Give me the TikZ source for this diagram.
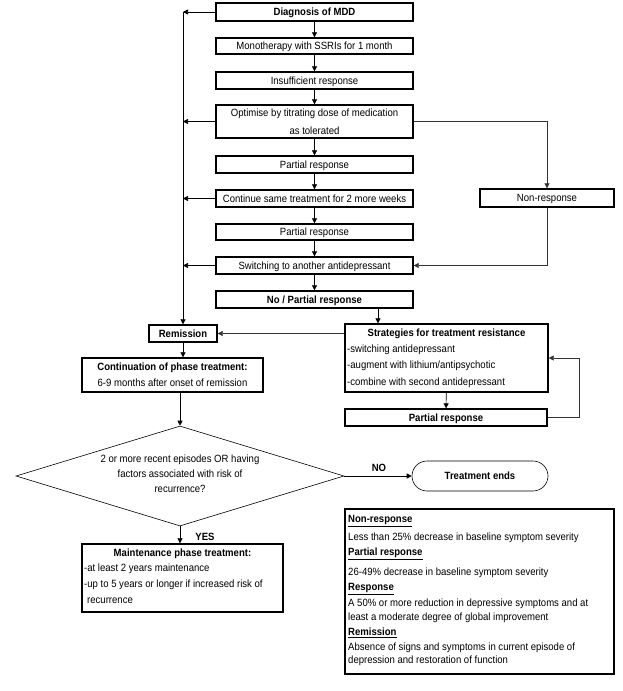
\documentclass[tikz,border=0pt]{standalone}
\usepackage{fontspec}
\setmainfont[FakeStretch=0.91]{Liberation Sans}
\usetikzlibrary{shapes.geometric,arrows.meta}
\begin{document}
\begin{tikzpicture}[x=1pt,y=-1pt,
  every node/.style={font=\fontsize{10.5}{12}\selectfont, inner sep=0pt, text height=7.5pt, text depth=0pt},
  frame/.style={draw, line width=1.3pt},
  mbox/.style={frame, minimum width=197pt, minimum height=17pt},
  lbl/.style={anchor=west},
  arr/.style={-{Triangle[length=5pt,width=5pt]}, line width=0.7pt},
  conn/.style={-{Triangle[length=5pt,width=5pt]}, line width=0.6pt, draw=black!80},
]
\useasboundingbox[fill=white] (0,0) rectangle (623,691);

% main column
\node[mbox, minimum height=18pt] (diag) at (314.5,12) {\textbf{Diagnosis of MDD}};
\node[mbox, minimum height=16pt] (mono) at (314.5,46) {Monotherapy with SSRIs for 1 month};
\node[mbox] (insuf) at (314.5,80.5) {Insufficient response};
\node[mbox, minimum height=33pt] (optim) at (314.5,121.5) {};
\node (optimA) at (314.5,113) {Optimise by titrating dose of medication};
\node (optimB) at (314.5,131) {as tolerated};
\node[mbox] (part1) at (314.5,164.5) {Partial response};
\node[mbox] (cont) at (314.5,198.5) {Continue same treatment for 2 more weeks};
\node[mbox, minimum height=16pt] (part2) at (314.5,232) {Partial response};
\node[mbox] (switch) at (314.5,265.5) {Switching to another antidepressant};
\node[mbox] (nopart) at (314.5,299.5) {\textbf{No / Partial response}};

\node[frame, minimum width=134pt, minimum height=18pt] (nonresp) at (547,198) {Non-response};

\node[frame, minimum width=68pt, minimum height=17pt] (remis) at (183,333.5) {\textbf{Remission}};

\node[frame, minimum width=203pt, minimum height=68pt] (strat) at (446.5,358) {};
\node (stratT) at (446.5,333) {\textbf{Strategies for treatment resistance}};
\node[lbl] (stratA) at (347,349) {-switching antidepressant};
\node[lbl] (stratB) at (347,365) {-augment with lithium/antipsychotic};
\node[lbl] (stratC) at (347,382) {-combine with second antidepressant};

\node[frame, minimum width=202pt, minimum height=17pt] (part3) at (446,417.5) {\textbf{Partial response}};

\node[frame, minimum width=181pt, minimum height=34pt] (contin) at (172.5,375) {};
\node (continT) at (172.5,367) {\textbf{Continuation of phase treatment:}};
\node (continA) at (172.5,383) {6-9 months after onset of remission};

\node[diamond, draw, line width=0.6pt, minimum width=328pt, minimum height=100pt, inner sep=0pt] (dec) at (180,476) {};
\node (decA) at (180,459) {2 or more recent episodes OR having};
\node (decB) at (180,474) {factors associated with risk of};
\node (decC) at (180,489) {recurrence?};

\node[draw, line width=0.6pt, rounded corners=15pt, minimum width=136pt, minimum height=30pt] (tend) at (480,476) {\textbf{Treatment ends}};

\node[frame, minimum width=201pt, minimum height=68pt] (maint) at (182.5,578) {};
\node (maintT) at (182.5,553) {\textbf{Maintenance phase treatment:}};
\node[lbl] (maintA) at (84,568) {-at least 2 years maintenance};
\node[lbl] (maintB) at (84,584) {-up to 5 years or longer if increased risk of};
\node[lbl] (maintC) at (87,600) {recurrence};

\node[frame, minimum width=269pt, minimum height=165pt] (legend) at (479.5,591.5) {};
\node[lbl] (lg1) at (348,519) {\underline{\textbf{Non-response}}};
\node[lbl] (lg2) at (348,537) {Less than 25\% decrease in baseline symptom severity};
\node[lbl] (lg3) at (348,552) {\underline{\textbf{Partial response}}};
\node[lbl] (lg4) at (348,572) {26-49\% decrease in baseline symptom severity};
\node[lbl] (lg5) at (348,587) {\underline{\textbf{Response}}};
\node[lbl] (lg6) at (348,603) {A 50\% or more reduction in depressive symptoms and at};
\node[lbl] (lg7) at (348,617) {least a moderate degree of global improvement};
\node[lbl] (lg8) at (348,632) {\underline{\textbf{Remission}}};
\node[lbl] (lg9) at (348,647) {Absence of signs and symptoms in current episode of};
\node[lbl] (lg10) at (348,660) {depression and restoration of function};

% main column arrows
\draw[arr] (diag) -- (mono);
\draw[arr] (mono) -- (insuf);
\draw[arr] (insuf) -- (optim);
\draw[arr] (optim) -- (part1);
\draw[arr] (part1) -- (cont);
\draw[arr] (cont) -- (part2);
\draw[arr] (part2) -- (switch);
\draw[arr] (switch) -- (nopart);

% left return line
\coordinate (L1) at (183,12);
\draw[arr] (diag.west) -- (L1);
\draw[arr] (optim.west) -- (optim.west -| L1);
\draw[arr] (cont.west) -- (cont.west -| L1);
\draw[arr] (switch.west) -- (switch.west -| L1);
\draw[arr] (L1) -- (L1 |- remis.north);

% right branch
\draw[conn] (optim.east) -| (nonresp.north);
\draw[conn] (nonresp.south) |- (switch.east);

% lower part
\coordinate (np) at ([xshift=63.5pt]nopart.south);
\draw[arr] (np) -- (np |- strat.north);
\draw[conn] (strat.west |- remis.east) -- (remis.east);
\draw[arr] (remis.south) -- (remis.south |- contin.north);
\draw[arr] (dec.north |- contin.south) -- (dec.north);
\draw[arr] (strat) -- (part3);
\draw[conn] (part3.east) -- ++(32,0) |- (strat.east);
\draw[arr] (dec.south) -- (dec.south |- maint.north);
\node (yes) at (205,537) {\textbf{YES}};
\draw[arr] (dec.east) -- (tend.west);
\node (no) at (379,468) {\textbf{NO}};
\end{tikzpicture}
\end{document}
